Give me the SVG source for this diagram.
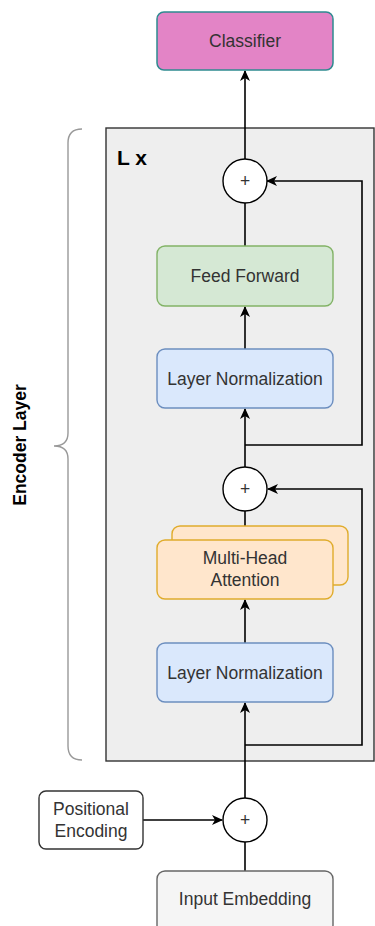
<svg xmlns="http://www.w3.org/2000/svg" width="375" height="926" viewBox="0 0 375 926">
  <defs>
    <marker id="arrow" markerUnits="userSpaceOnUse" markerWidth="12" markerHeight="10" refX="10" refY="5" orient="auto">
      <path d="M0,0 L11,5 L0,10 L3,5 Z" fill="#000"/>
    </marker>
    <style>
      .lbl { font-family: "Liberation Sans", Arial, sans-serif; font-size: 17.5px; fill: #333333; text-anchor: middle; dominant-baseline: central; }
      .bold { font-family: "Liberation Sans", Arial, sans-serif; font-weight: bold; fill: #000; }
      .conn { fill: none; stroke: #000; stroke-width: 1.6; }
      .plus { fill: #fff; stroke: #000; stroke-width: 1.4; }
      .ln { fill: #dae8fc; stroke: #6c8ebf; stroke-width: 1.4; }
    </style>
  </defs>

  <rect width="375" height="926" fill="#ffffff"/>

  <!-- repeated encoder block -->
  <g id="encoder-block">
    <rect x="106" y="128" width="268" height="633" fill="#eeeeee" stroke="#333333" stroke-width="1.4"/>
    <text class="bold" x="117" y="157" font-size="21" dominant-baseline="central">L x</text>
  </g>

  <!-- brace and side label -->
  <g id="encoder-brace">
    <path d="M82,129 Q68,129 68,143 L68,433 Q68,446 54,446 Q68,446 68,459 L68,746 Q68,760 82,760" fill="none" stroke="#999999" stroke-width="1.4"/>
    <text class="bold" x="0" y="0" font-size="17.5" text-anchor="middle" dominant-baseline="central" transform="translate(20,445) rotate(-90)">Encoder Layer</text>
  </g>

  <!-- connectors -->
  <g id="connectors">
    <line class="conn" x1="245" y1="871" x2="245" y2="842"/>
    <line class="conn" x1="143" y1="820" x2="222" y2="820" marker-end="url(#arrow)"/>
    <line class="conn" x1="245" y1="798" x2="245" y2="703" marker-end="url(#arrow)"/>
    <polyline class="conn" points="245,745 362,745 362,489 268,489" marker-end="url(#arrow)"/>
    <line class="conn" x1="245" y1="643" x2="245" y2="600" marker-end="url(#arrow)"/>
    <line class="conn" x1="245" y1="526" x2="245" y2="511"/>
    <line class="conn" x1="245" y1="467" x2="245" y2="409" marker-end="url(#arrow)"/>
    <polyline class="conn" points="245,445 362,445 362,181 267,181" marker-end="url(#arrow)"/>
    <line class="conn" x1="245" y1="349" x2="245" y2="307" marker-end="url(#arrow)"/>
    <line class="conn" x1="245" y1="246" x2="245" y2="203"/>
    <line class="conn" x1="245" y1="159" x2="245" y2="71" marker-end="url(#arrow)"/>
  </g>

  <g id="classifier">
    <rect x="157" y="12" width="176" height="58" rx="7" fill="#e384c6" stroke="#2e8a90" stroke-width="1.5"/>
    <text class="lbl" x="245" y="41">Classifier</text>
  </g>

  <g id="add-top">
    <circle class="plus" cx="245" cy="181" r="22"/>
    <text class="lbl" x="245" y="181" font-size="16" fill="#000">+</text>
  </g>

  <g id="feed-forward">
    <rect x="157" y="246" width="176" height="60" rx="8" fill="#d5e8d4" stroke="#82b366" stroke-width="1.4"/>
    <text class="lbl" x="245" y="276">Feed Forward</text>
  </g>

  <g id="layer-norm-2">
    <rect class="ln" x="157" y="349" width="176" height="59" rx="8"/>
    <text class="lbl" x="245" y="378.5">Layer Normalization</text>
  </g>

  <g id="add-mid">
    <circle class="plus" cx="245" cy="489" r="22"/>
    <text class="lbl" x="245" y="489" font-size="16" fill="#000">+</text>
  </g>

  <g id="multi-head-attention">
    <rect x="172" y="526" width="176" height="59" rx="8" fill="#ffe6cc" stroke="#e0ac2c" stroke-width="1.4"/>
    <rect x="157" y="540" width="176" height="59" rx="8" fill="#ffe6cc" stroke="#e0ac2c" stroke-width="1.4"/>
    <text class="lbl" x="245" y="558">Multi-Head</text>
    <text class="lbl" x="245" y="580">Attention</text>
  </g>

  <g id="layer-norm-1">
    <rect class="ln" x="157" y="643" width="176" height="59" rx="8"/>
    <text class="lbl" x="245" y="672.5">Layer Normalization</text>
  </g>

  <g id="positional-encoding">
    <rect x="39" y="791" width="104" height="58" rx="7" fill="#ffffff" stroke="#333333" stroke-width="1.4"/>
    <text class="lbl" x="91" y="809">Positional</text>
    <text class="lbl" x="91" y="831">Encoding</text>
  </g>

  <g id="add-input">
    <circle class="plus" cx="245" cy="820" r="22"/>
    <text class="lbl" x="245" y="820" font-size="16" fill="#000">+</text>
  </g>

  <g id="input-embedding">
    <rect x="157" y="871" width="176" height="62" rx="8" fill="#f5f5f5" stroke="#666666" stroke-width="1.4"/>
    <text class="lbl" x="245" y="899">Input Embedding</text>
  </g>
</svg>
